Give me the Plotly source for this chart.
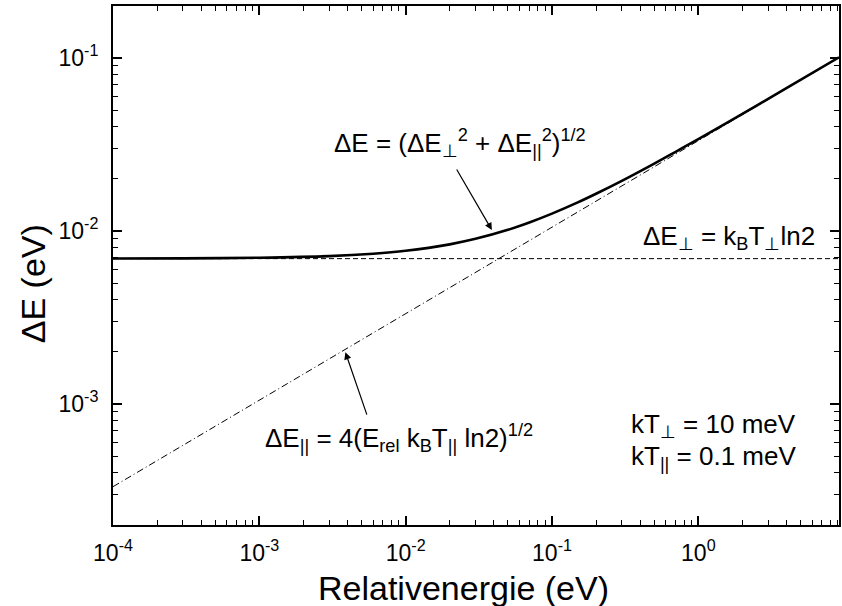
import plotly.graph_objects as go

# Energy resolution vs. relative energy (log-log)
x_axis_ticks = [1e-4, 1e-3, 1e-2, 1e-1, 1e0]
x_tick_labels = ["10<sup>-4</sup>", "10<sup>-3</sup>", "10<sup>-2</sup>", "10<sup>-1</sup>", "10<sup>0</sup>"]
y_axis_ticks = [1e-3, 1e-2, 1e-1]
y_tick_labels = ["10<sup>-3</sup>", "10<sup>-2</sup>", "10<sup>-1</sup>"]

# total resolution (solid)
e_total = [1e-4, 3e-4, 1e-3, 3e-3, 6e-3, 1e-2, 2e-2, 3e-2, 5e-2, 7e-2, 0.1, 0.15, 0.2,
           0.3, 0.5, 0.7, 1.0, 2.0, 4.0, 9.15]
de_total = [6.94e-3, 6.952e-3, 7.01e-3, 7.16e-3, 7.393e-3, 7.69e-3, 8.38e-3, 9.015e-3,
            1.017e-2, 1.121e-2, 1.261e-2, 1.464e-2, 1.643e-2, 1.951e-2, 2.455e-2,
            2.871e-2, 3.401e-2, 4.760e-2, 6.696e-2, 0.1010]

# transverse contribution (dashed), kT_perp = 10 meV
e_perp = [1e-4, 9.15]
de_perp = [6.93e-3, 6.93e-3]

# longitudinal contribution (dash-dot), kT_par = 0.1 meV
e_par = [1e-4, 9.15]
de_par = [3.33e-4, 0.1007]

FONT = "Liberation Sans, Arial, Helvetica, sans-serif"

fig = go.Figure()
fig.add_trace(go.Scatter(x=e_perp, y=de_perp, mode="lines",
                         line=dict(color="black", width=1, dash="5px,3px")))
fig.add_trace(go.Scatter(x=e_par, y=de_par, mode="lines",
                         line=dict(color="black", width=1, dash="7px,3px,1px,3px")))
fig.add_trace(go.Scatter(x=e_total, y=de_total, mode="lines", line_shape="spline",
                         line=dict(color="black", width=2.6)))

L, R, T, B = 113, 841, 6, 525
W, H = 842, 606


def px(xp):
    return (xp - L) / (R - L)


def py(yp):
    return (B - yp) / (B - T)


axis_common = dict(
    type="log", showgrid=False, zeroline=False,
    showline=True, linecolor="black", linewidth=2, mirror="allticks",
    ticks="inside", ticklen=9, tickwidth=1.5, tickcolor="black",
    tickfont=dict(family=FONT, size=23, color="black"),
    minor=dict(ticks="inside", ticklen=5, tickwidth=1, tickcolor="black",
               dtick="D1", showgrid=False),
)

fig.update_xaxes(range=[-4, 0.9614], tickmode="array", tickvals=x_axis_ticks,
                 ticktext=x_tick_labels, ticklabelstandoff=6, **axis_common)
fig.update_yaxes(range=[-3.699, -0.699], tickmode="array", tickvals=y_axis_ticks,
                 ticktext=y_tick_labels, ticklabelstandoff=8, **axis_common)

ann_font = dict(family=FONT, size=26, color="black")
annotations = [
    # axis titles
    dict(text="Relativenergie (eV)", x=px(464), y=py(588), xref="paper", yref="paper",
         showarrow=False, font=dict(family=FONT, size=34, color="black"),
         xanchor="center", yanchor="middle"),
    dict(text="ΔE (eV)", x=px(33), y=py(284), xref="paper", yref="paper",
         showarrow=False, textangle=-90, font=dict(family=FONT, size=34, color="black"),
         xanchor="center", yanchor="middle"),
    # curve labels
    dict(text="ΔE = (ΔE<sub>⊥</sub><sup>2</sup> + ΔE<sub>||</sub><sup>2</sup>)<sup>1/2</sup>",
         x=px(333), y=py(143), xref="paper", yref="paper", showarrow=False,
         font=ann_font, xanchor="left", yanchor="middle"),
    dict(text="ΔE<sub>⊥</sub> = k<sub>B</sub>T<sub>⊥</sub>ln2",
         x=px(642), y=py(238), xref="paper", yref="paper", showarrow=False,
         font=ann_font, xanchor="left", yanchor="middle"),
    dict(text="ΔE<sub>||</sub> = 4(E<sub>rel</sub> k<sub>B</sub>T<sub>||</sub> ln2)<sup>1/2</sup>",
         x=px(263), y=py(438), xref="paper", yref="paper", showarrow=False,
         font=ann_font, xanchor="left", yanchor="middle"),
    dict(text="kT<sub>⊥</sub> = 10 meV", x=px(630), y=py(425), xref="paper", yref="paper",
         showarrow=False, font=ann_font, xanchor="left", yanchor="middle"),
    dict(text="kT<sub>||</sub> = 0.1 meV", x=px(630), y=py(458), xref="paper", yref="paper",
         showarrow=False, font=ann_font, xanchor="left", yanchor="middle"),
    # arrows pointing to the curves
    dict(x=-1.411, y=-1.994, xref="x", yref="y", text="", showarrow=True,
         ax=-36, ay=-62, arrowhead=2, arrowsize=1.2, arrowwidth=1.2, arrowcolor="black"),
    dict(x=-2.412, y=-2.70, xref="x", yref="y", text="", showarrow=True,
         ax=22, ay=64, arrowhead=2, arrowsize=1.2, arrowwidth=1.2, arrowcolor="black"),
]

fig.update_layout(
    width=W, height=H,
    margin=dict(l=L, r=W - R, t=T, b=H - B),
    paper_bgcolor="white", plot_bgcolor="white",
    showlegend=False,
    font=dict(family=FONT, color="black"),
    annotations=annotations,
)

fig.write_html("out.html")
